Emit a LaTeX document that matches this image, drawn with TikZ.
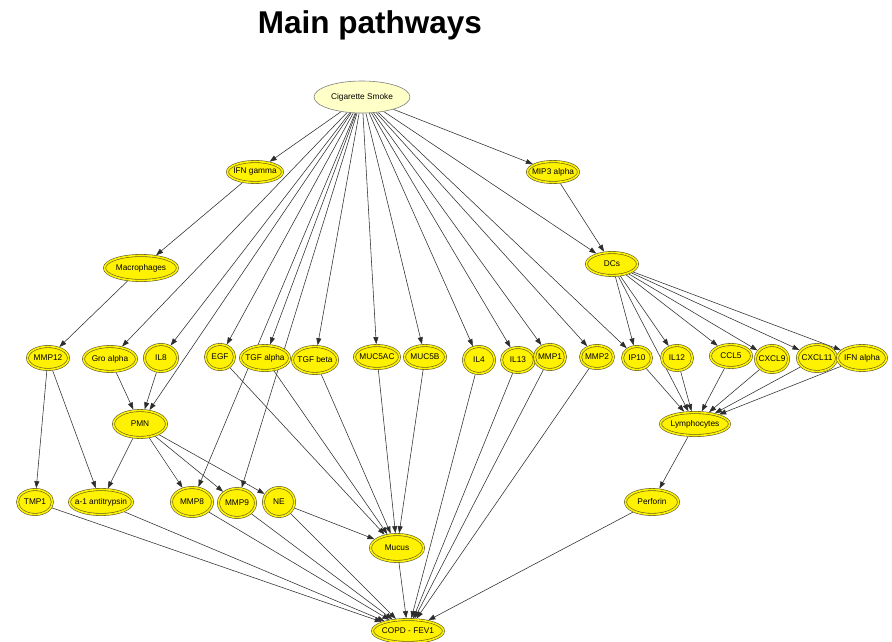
\documentclass[tikz,border=0pt]{standalone}
\usepackage{fontspec}
\setmainfont{Liberation Sans}
\usetikzlibrary{shapes.geometric,arrows.meta}
\pgfdeclarelayer{edges}
\pgfsetlayers{edges,main}
\definecolor{ring}{RGB}{95,92,40}
\definecolor{cream}{RGB}{255,255,200}
\definecolor{edgegray}{RGB}{45,45,45}
\newcommand\bioLabel{\fontsize{8.3}{9}\selectfont}
\newcommand\headFont{\fontsize{31.5}{34}\selectfont\bfseries}
\begin{document}
\begin{tikzpicture}[x=1pt,y=-1pt,
  bio/.style={ellipse, draw=ring, line width=0.6pt, double=yellow, double distance=1.6pt,
    fill=yellow, inner xsep=-14pt, inner ysep=-5pt, outer sep=1.4pt, font=\bioLabel},
  src/.style={ellipse, draw=gray, line width=0.6pt, fill=cream,
    inner xsep=-14pt, inner ysep=-5pt, outer sep=0.3pt, font=\bioLabel},
  link/.style={draw=edgegray, line width=0.55pt, -{Triangle[length=7pt,width=5pt]}},
  sz/.style 2 args={minimum width=#1pt, minimum height=#2pt}]
\useasboundingbox (0,0) rectangle (892,642);

\node[font=\headFont] (title) at (370,25) {Main pathways};

% source
\node[src, sz={96}{32}] (cs) at (362,97) {Cigarette Smoke};

% upper tiers
\node[bio, sz={55}{21}] (ifng) at (255,172) {IFN gamma};
\node[bio, sz={51}{21}] (mip3) at (553,172) {MIP3 alpha};
\node[bio, sz={73}{25}] (macro) at (141,268) {Macrophages};
\node[bio, sz={51}{23}] (dcs) at (612,264) {DCs};

% mediator row
\node[bio, sz={41}{23}] (mmp12) at (48,358) {MMP12};
\node[bio, sz={53}{25}] (gro) at (110,359) {Gro alpha};
\node[bio, sz={33}{27}] (il8) at (161,358) {IL8};
\node[bio, sz={29}{25}] (egf) at (220,357) {EGF};
\node[bio, sz={49}{25}] (tgfa) at (265,358) {TGF alpha};
\node[bio, sz={45}{27}] (tgfb) at (315,360) {TGF beta};
\node[bio, sz={45}{23}] (muc5ac) at (377,357) {MUC5AC};
\node[bio, sz={41}{23}] (muc5b) at (425,357) {MUC5B};
\node[bio, sz={31}{27}] (il4) at (479,360) {IL4};
\node[bio, sz={33}{25}] (il13) at (518,360) {IL13};
\node[bio, sz={31}{25}] (mmp1) at (550,357) {MMP1};
\node[bio, sz={33}{23}] (mmp2) at (597,357) {MMP2};
\node[bio, sz={29}{23}] (ip10) at (637,358) {IP10};
\node[bio, sz={31}{25}] (il12) at (677,358) {IL12};
\node[bio, sz={41}{23}] (ccl5) at (731,356) {CCL5};
\node[bio, sz={33}{27}] (cxcl9) at (772,359) {CXCL9};
\node[bio, sz={39}{27}] (cxcl11) at (817,358) {CXCL11};
\node[bio, sz={49}{25}] (ifna) at (862,358) {IFN alpha};

% cells
\node[bio, sz={53}{27}] (pmn) at (140,424) {PMN};
\node[bio, sz={69}{23}] (lymph) at (695,424) {Lymphocytes};

% effector row
\node[bio, sz={35}{25}] (tmp1) at (35,502) {TMP1};
\node[bio, sz={63}{25}] (a1at) at (101,502) {a-1 antitrypsin};
\node[bio, sz={41}{29}] (mmp8) at (192,502) {MMP8};
\node[bio, sz={37}{29}] (mmp9) at (237,503) {MMP9};
\node[bio, sz={31}{29}] (ne) at (279,502) {NE};
\node[bio, sz={53}{25}] (perf) at (652,502) {Perforin};

% outcomes
\node[bio, sz={53}{27}] (mucus) at (397,548) {Mucus};
\node[bio, sz={71}{23}] (copd) at (408,631) {COPD - FEV1};

\begin{pgfonlayer}{edges}
\fill[white] (0,0) rectangle (892,642);
% smoke exposure
\foreach \t in {ifng,mip3,gro,il8,pmn,egf,tgfa,mmp8,mmp9,tgfb,muc5ac,muc5b,il4,il13,mmp1,mmp2,ip10,dcs}
  \draw[link] (cs) -- (\t);

\draw[link] (ifng) -- (macro);
\draw[link] (macro) -- (mmp12);
\draw[link] (mip3) -- (dcs);

% dendritic cell signalling
\foreach \t in {ip10,il12,lymph,ccl5,cxcl9,cxcl11,ifna}
  \draw[link] (dcs) -- (\t);
\foreach \s in {ip10,il12,ccl5,cxcl9,cxcl11,ifna}
  \draw[link] (\s) -- (lymph);
\draw[link] (lymph) -- (perf);

% neutrophil branch
\draw[link] (mmp12) -- (tmp1);
\draw[link] (mmp12) -- (a1at);
\draw[link] (gro) -- (pmn);
\draw[link] (il8) -- (pmn);
\foreach \t in {a1at,mmp8,mmp9,ne}
  \draw[link] (pmn) -- (\t);

% mucus production
\foreach \s in {egf,tgfa,tgfb,muc5ac,muc5b,ne}
  \draw[link] (\s) -- (mucus);

% lung function
\foreach \s in {tmp1,a1at,mmp8,mmp9,ne,mucus,il4,il13,mmp1,mmp2,perf}
  \draw[link] (\s) -- (copd);
\end{pgfonlayer}
\end{tikzpicture}
\end{document}
